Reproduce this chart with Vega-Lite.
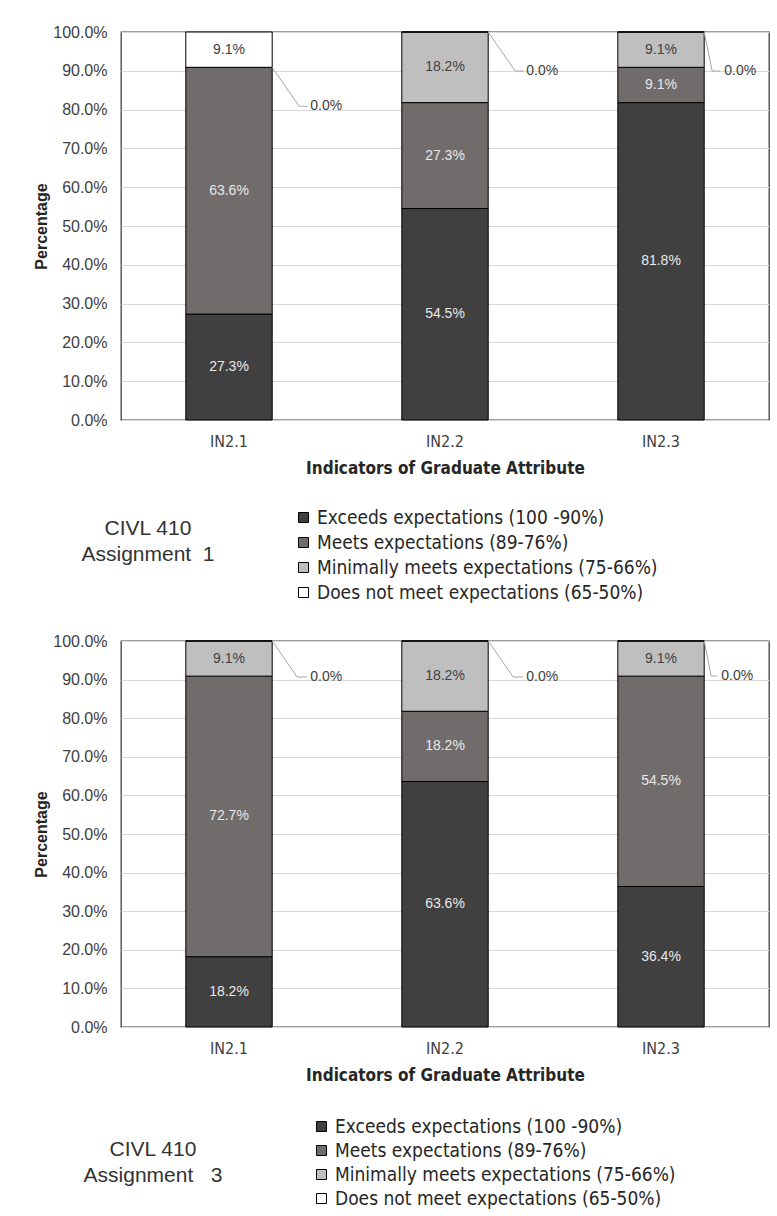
{
  "$schema": "https://vega.github.io/schema/vega-lite/v6.json",
  "background": "white",
  "padding": {"left": 33, "top": 23, "right": 5, "bottom": 0},
  "spacing": 28,
  "config": {
    "font": "Liberation Sans",
    "view": {"stroke": "#404040", "strokeWidth": 1.3},
    "axisX": {
      "domain": false, "ticks": false, "grid": false, "labelAngle": 0,
      "labelFont": "'DejaVu Sans Condensed', 'Liberation Sans'", "labelFontSize": 16, "labelColor": "#404040", "labelPadding": 13,
      "titleFont": "'DejaVu Sans Condensed', 'Liberation Sans'", "titleFontSize": 17, "titleFontWeight": "bold", "titleColor": "#262626", "titlePadding": 11
    },
    "axisY": {
      "domain": false, "ticks": false, "grid": true, "gridColor": "#d9d9d9",
      "labelFont": "Liberation Sans", "labelFontSize": 16, "labelColor": "#404040", "labelPadding": 14,
      "titleFont": "Liberation Sans", "titleFontSize": 16, "titleFontWeight": "bold", "titleColor": "#262626", "titlePadding": 3
    },
    "legend": {
      "orient": "none", "direction": "vertical", "padding": 0,
      "symbolType": "square", "symbolSize": 100, "symbolStrokeColor": "#000", "symbolStrokeWidth": 1,
      "labelFont": "'DejaVu Sans Condensed', 'Liberation Sans'", "labelFontSize": 19, "labelColor": "#262626", "labelLimit": 450, "labelOffset": 4,
      "titleOrient": "left", "titleAlign": "center",
      "titleFont": "Liberation Sans", "titleFontSize": 21, "titleFontWeight": "normal", "titleColor": "#333333", "titleLineHeight": 26, "titleLimit": 300
    }
  },
  "datasets": {
    "grades": [
      {"panel": "Assignment 1", "indicator": "IN2.1", "order": 1, "level": "Exceeds expectations (100 -90%)", "pct": 0.273},
      {"panel": "Assignment 1", "indicator": "IN2.1", "order": 2, "level": "Meets expectations (89-76%)", "pct": 0.636},
      {"panel": "Assignment 1", "indicator": "IN2.1", "order": 3, "level": "Minimally meets expectations (75-66%)", "pct": 0.0},
      {"panel": "Assignment 1", "indicator": "IN2.1", "order": 4, "level": "Does not meet expectations (65-50%)", "pct": 0.091},
      {"panel": "Assignment 1", "indicator": "IN2.2", "order": 1, "level": "Exceeds expectations (100 -90%)", "pct": 0.545},
      {"panel": "Assignment 1", "indicator": "IN2.2", "order": 2, "level": "Meets expectations (89-76%)", "pct": 0.273},
      {"panel": "Assignment 1", "indicator": "IN2.2", "order": 3, "level": "Minimally meets expectations (75-66%)", "pct": 0.182},
      {"panel": "Assignment 1", "indicator": "IN2.2", "order": 4, "level": "Does not meet expectations (65-50%)", "pct": 0.0},
      {"panel": "Assignment 1", "indicator": "IN2.3", "order": 1, "level": "Exceeds expectations (100 -90%)", "pct": 0.818},
      {"panel": "Assignment 1", "indicator": "IN2.3", "order": 2, "level": "Meets expectations (89-76%)", "pct": 0.091},
      {"panel": "Assignment 1", "indicator": "IN2.3", "order": 3, "level": "Minimally meets expectations (75-66%)", "pct": 0.091},
      {"panel": "Assignment 1", "indicator": "IN2.3", "order": 4, "level": "Does not meet expectations (65-50%)", "pct": 0.0},
      {"panel": "Assignment 3", "indicator": "IN2.1", "order": 1, "level": "Exceeds expectations (100 -90%)", "pct": 0.182},
      {"panel": "Assignment 3", "indicator": "IN2.1", "order": 2, "level": "Meets expectations (89-76%)", "pct": 0.727},
      {"panel": "Assignment 3", "indicator": "IN2.1", "order": 3, "level": "Minimally meets expectations (75-66%)", "pct": 0.091},
      {"panel": "Assignment 3", "indicator": "IN2.1", "order": 4, "level": "Does not meet expectations (65-50%)", "pct": 0.0},
      {"panel": "Assignment 3", "indicator": "IN2.2", "order": 1, "level": "Exceeds expectations (100 -90%)", "pct": 0.636},
      {"panel": "Assignment 3", "indicator": "IN2.2", "order": 2, "level": "Meets expectations (89-76%)", "pct": 0.182},
      {"panel": "Assignment 3", "indicator": "IN2.2", "order": 3, "level": "Minimally meets expectations (75-66%)", "pct": 0.182},
      {"panel": "Assignment 3", "indicator": "IN2.2", "order": 4, "level": "Does not meet expectations (65-50%)", "pct": 0.0},
      {"panel": "Assignment 3", "indicator": "IN2.3", "order": 1, "level": "Exceeds expectations (100 -90%)", "pct": 0.364},
      {"panel": "Assignment 3", "indicator": "IN2.3", "order": 2, "level": "Meets expectations (89-76%)", "pct": 0.545},
      {"panel": "Assignment 3", "indicator": "IN2.3", "order": 3, "level": "Minimally meets expectations (75-66%)", "pct": 0.091},
      {"panel": "Assignment 3", "indicator": "IN2.3", "order": 4, "level": "Does not meet expectations (65-50%)", "pct": 0.0}
    ]
  },
  "resolve": {"scale": {"color": "independent"}, "legend": {"color": "independent"}},
  "vconcat": [
    {
      "width": 648,
      "height": 388,
      "data": {"name": "grades"},
      "transform": [
        {"filter": "datum.panel === 'Assignment 1'"},
        {"stack": "pct", "groupby": ["indicator"], "sort": [{"field": "order", "order": "ascending"}], "as": ["y0", "y1"]},
        {"calculate": "(datum.y0 + datum.y1) / 2", "as": "mid"}
      ],
      "encoding": {
        "x": {"field": "indicator", "type": "nominal", "title": "Indicators of Graduate Attribute",
              "scale": {"paddingInner": 0.6, "paddingOuter": 0.3}},
        "y": {"field": "y1", "type": "quantitative", "title": "Percentage",
              "scale": {"domain": [0, 1], "nice": false},
              "axis": {"format": ".1%", "values": [0, 0.1, 0.2, 0.3, 0.4, 0.5, 0.6, 0.7, 0.8, 0.9, 1]}}
      },
      "layer": [
        {
          "mark": {"type": "bar", "stroke": "#000", "strokeWidth": 1},
          "encoding": {
            "y": {"field": "y0", "type": "quantitative"},
            "y2": {"field": "y1"},
            "color": {
              "field": "level", "type": "nominal",
              "scale": {
                "domain": ["Exceeds expectations (100 -90%)", "Meets expectations (89-76%)", "Minimally meets expectations (75-66%)", "Does not meet expectations (65-50%)"],
                "range": ["#404040", "#716c6c", "#bfbfbf", "#ffffff"]
              },
              "legend": {"title": ["CIVL 410", "Assignment\u00a0 1"], "legendX": -40, "legendY": 476, "rowPadding": 5, "titleAnchor": "middle", "titleBaseline": "line-bottom", "titlePadding": 12}
            }
          }
        },
        {
          "transform": [{"filter": "datum.pct > 0"}],
          "mark": {"type": "text", "fontSize": 14, "font": "Liberation Sans"},
          "encoding": {
            "y": {"field": "mid", "type": "quantitative"},
            "text": {"field": "pct", "type": "quantitative", "format": ".1%"},
            "color": {"condition": {"test": "datum.order <= 2", "value": "#e8e8e8"}, "value": "#404040"}
          }
        },
        {
          "transform": [{"filter": "datum.pct === 0 && datum.indicator !== 'IN2.3'"}],
          "layer": [
            {
              "mark": {"type": "rule", "color": "#a6a6a6", "strokeWidth": 1, "x2Offset": 27, "y2Offset": 39},
              "encoding": {
                "x": {"field": "indicator", "type": "nominal", "bandPosition": 1},
                "x2": {"field": "indicator", "bandPosition": 1},
                "y": {"field": "y1", "type": "quantitative"},
                "y2": {"field": "y1"}
              }
            },
            {
              "mark": {"type": "rule", "color": "#a6a6a6", "strokeWidth": 1, "xOffset": 27, "x2Offset": 35, "yOffset": 39, "y2Offset": 39},
              "encoding": {
                "x": {"field": "indicator", "type": "nominal", "bandPosition": 1},
                "x2": {"field": "indicator", "bandPosition": 1},
                "y": {"field": "y1", "type": "quantitative"},
                "y2": {"field": "y1"}
              }
            },
            {
              "mark": {"type": "text", "fontSize": 14, "font": "Liberation Sans", "align": "left", "baseline": "middle", "dx": 38, "dy": 39, "color": "#404040"},
              "encoding": {
                "x": {"field": "indicator", "type": "nominal", "bandPosition": 1},
                "y": {"field": "y1", "type": "quantitative"},
                "text": {"field": "pct", "type": "quantitative", "format": ".1%"}
              }
            }
          ]
        },
        {
          "transform": [{"filter": "datum.pct === 0 && datum.indicator === 'IN2.3'"}],
          "layer": [
            {
              "mark": {"type": "rule", "color": "#a6a6a6", "strokeWidth": 1, "x2Offset": 8, "y2Offset": 39},
              "encoding": {
                "x": {"field": "indicator", "type": "nominal", "bandPosition": 1},
                "x2": {"field": "indicator", "bandPosition": 1},
                "y": {"field": "y1", "type": "quantitative"},
                "y2": {"field": "y1"}
              }
            },
            {
              "mark": {"type": "rule", "color": "#a6a6a6", "strokeWidth": 1, "xOffset": 8, "x2Offset": 16, "yOffset": 39, "y2Offset": 39},
              "encoding": {
                "x": {"field": "indicator", "type": "nominal", "bandPosition": 1},
                "x2": {"field": "indicator", "bandPosition": 1},
                "y": {"field": "y1", "type": "quantitative"},
                "y2": {"field": "y1"}
              }
            },
            {
              "mark": {"type": "text", "fontSize": 14, "font": "Liberation Sans", "align": "left", "baseline": "middle", "dx": 20, "dy": 39, "color": "#404040"},
              "encoding": {
                "x": {"field": "indicator", "type": "nominal", "bandPosition": 1},
                "y": {"field": "y1", "type": "quantitative"},
                "text": {"field": "pct", "type": "quantitative", "format": ".1%"}
              }
            }
          ]
        }
      ]
    },
    {
      "width": 648,
      "height": 386,
      "data": {"name": "grades"},
      "transform": [
        {"filter": "datum.panel === 'Assignment 3'"},
        {"stack": "pct", "groupby": ["indicator"], "sort": [{"field": "order", "order": "ascending"}], "as": ["y0", "y1"]},
        {"calculate": "(datum.y0 + datum.y1) / 2", "as": "mid"}
      ],
      "encoding": {
        "x": {"field": "indicator", "type": "nominal", "title": "Indicators of Graduate Attribute",
              "scale": {"paddingInner": 0.6, "paddingOuter": 0.3}},
        "y": {"field": "y1", "type": "quantitative", "title": "Percentage",
              "scale": {"domain": [0, 1], "nice": false},
              "axis": {"format": ".1%", "values": [0, 0.1, 0.2, 0.3, 0.4, 0.5, 0.6, 0.7, 0.8, 0.9, 1]}}
      },
      "layer": [
        {
          "mark": {"type": "bar", "stroke": "#000", "strokeWidth": 1},
          "encoding": {
            "y": {"field": "y0", "type": "quantitative"},
            "y2": {"field": "y1"},
            "color": {
              "field": "level", "type": "nominal",
              "scale": {
                "domain": ["Exceeds expectations (100 -90%)", "Meets expectations (89-76%)", "Minimally meets expectations (75-66%)", "Does not meet expectations (65-50%)"],
                "range": ["#404040", "#716c6c", "#bfbfbf", "#ffffff"]
              },
              "legend": {"title": ["CIVL 410", "Assignment\u00a0\u00a0 3"], "legendX": -37, "legendY": 476, "rowPadding": 4, "titleAnchor": "middle", "titleBaseline": "middle", "titlePadding": 20}
            }
          }
        },
        {
          "transform": [{"filter": "datum.pct > 0"}],
          "mark": {"type": "text", "fontSize": 14, "font": "Liberation Sans"},
          "encoding": {
            "y": {"field": "mid", "type": "quantitative"},
            "text": {"field": "pct", "type": "quantitative", "format": ".1%"},
            "color": {"condition": {"test": "datum.order <= 2", "value": "#e8e8e8"}, "value": "#404040"}
          }
        },
        {
          "transform": [{"filter": "datum.pct === 0 && datum.indicator !== 'IN2.3'"}],
          "layer": [
            {
              "mark": {"type": "rule", "color": "#a6a6a6", "strokeWidth": 1, "x2Offset": 25, "y2Offset": 36},
              "encoding": {
                "x": {"field": "indicator", "type": "nominal", "bandPosition": 1},
                "x2": {"field": "indicator", "bandPosition": 1},
                "y": {"field": "y1", "type": "quantitative"},
                "y2": {"field": "y1"}
              }
            },
            {
              "mark": {"type": "rule", "color": "#a6a6a6", "strokeWidth": 1, "xOffset": 25, "x2Offset": 35, "yOffset": 36, "y2Offset": 36},
              "encoding": {
                "x": {"field": "indicator", "type": "nominal", "bandPosition": 1},
                "x2": {"field": "indicator", "bandPosition": 1},
                "y": {"field": "y1", "type": "quantitative"},
                "y2": {"field": "y1"}
              }
            },
            {
              "mark": {"type": "text", "fontSize": 14, "font": "Liberation Sans", "align": "left", "baseline": "middle", "dx": 38, "dy": 36, "color": "#404040"},
              "encoding": {
                "x": {"field": "indicator", "type": "nominal", "bandPosition": 1},
                "y": {"field": "y1", "type": "quantitative"},
                "text": {"field": "pct", "type": "quantitative", "format": ".1%"}
              }
            }
          ]
        },
        {
          "transform": [{"filter": "datum.pct === 0 && datum.indicator === 'IN2.3'"}],
          "layer": [
            {
              "mark": {"type": "rule", "color": "#a6a6a6", "strokeWidth": 1, "x2Offset": 7, "y2Offset": 35},
              "encoding": {
                "x": {"field": "indicator", "type": "nominal", "bandPosition": 1},
                "x2": {"field": "indicator", "bandPosition": 1},
                "y": {"field": "y1", "type": "quantitative"},
                "y2": {"field": "y1"}
              }
            },
            {
              "mark": {"type": "rule", "color": "#a6a6a6", "strokeWidth": 1, "xOffset": 7, "x2Offset": 13, "yOffset": 35, "y2Offset": 35},
              "encoding": {
                "x": {"field": "indicator", "type": "nominal", "bandPosition": 1},
                "x2": {"field": "indicator", "bandPosition": 1},
                "y": {"field": "y1", "type": "quantitative"},
                "y2": {"field": "y1"}
              }
            },
            {
              "mark": {"type": "text", "fontSize": 14, "font": "Liberation Sans", "align": "left", "baseline": "middle", "dx": 17, "dy": 35, "color": "#404040"},
              "encoding": {
                "x": {"field": "indicator", "type": "nominal", "bandPosition": 1},
                "y": {"field": "y1", "type": "quantitative"},
                "text": {"field": "pct", "type": "quantitative", "format": ".1%"}
              }
            }
          ]
        }
      ]
    }
  ]
}
